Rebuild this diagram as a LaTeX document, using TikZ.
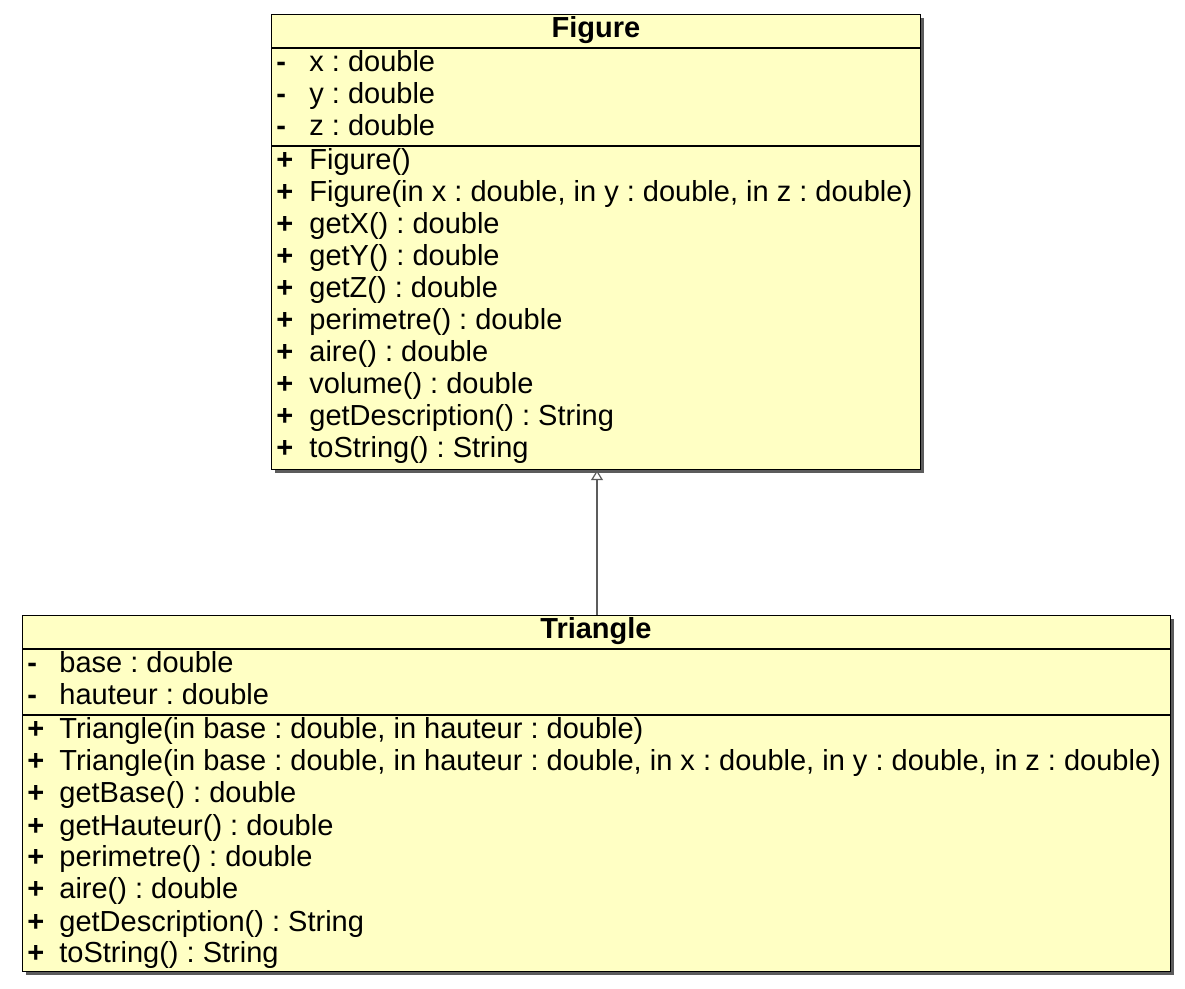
\documentclass[tikz,border=0pt]{standalone}
\usepackage{fontspec}
\setmainfont{Liberation Sans}
\usetikzlibrary{arrows.meta,shadows}
\definecolor{NoteYellow}{HTML}{FFFFC4}
\definecolor{EdgeGrey}{HTML}{5C5C5C}
\frenchspacing

\begin{document}
\begin{tikzpicture}[
      x=0.5pt, y=-0.5pt,
      cbox/.style={rectangle, draw=black, line width=0.6pt, fill=NoteYellow,
                   anchor=north west, inner sep=0pt,
                   drop shadow={shadow xshift=1.5pt, shadow yshift=-1.5pt,
                                fill=EdgeGrey, opacity=1}},
      ctitle/.style={anchor=base, inner sep=0pt,
                     font=\fontsize{14.5}{16}\selectfont\bfseries},
      vis/.style={anchor=base west, inner sep=0pt,
                  font=\fontsize{14.5}{16}\selectfont\bfseries},
      row/.style={anchor=base west, inner sep=0pt,
                  font=\fontsize{14.5}{16}\selectfont},
      sep/.style={draw=black, line width=0.6pt},
      gen/.style={-{Triangle[open, length=5pt, width=6pt]}, draw=EdgeGrey,
                  line width=0.6pt},
    ]
      \useasboundingbox (0,0) rectangle (1185,989);

      % Figure
      \node[cbox, minimum width=324.5pt, minimum height=227.5pt] (fig) at (271,14) {};
      \node[ctitle] (figt) at (596,38) {Figure};
      \draw[sep] ([yshift=-17pt]fig.north west) -- ([yshift=-17pt]fig.north east);
      \draw[sep] ([yshift=-66pt]fig.north west) -- ([yshift=-66pt]fig.north east);
      \foreach \t [count=\i] in {x : double, y : double, z : double}{
        \node[vis] (fav\i) at (276,{72+32*(\i-1)}) {-};
        \node[row] (fa\i) at (309,{72+32*(\i-1)}) {\t};
      }
      \foreach \t [count=\i] in {Figure(),
          {Figure(in x : double, in y : double, in z : double)},
          getX() : double, getY() : double, getZ() : double,
          perimetre() : double, aire() : double, volume() : double,
          getDescription() : String, toString() : String}{
        \node[vis] (fmv\i) at (276,{170+32*(\i-1)}) {+};
        \node[row] (fm\i) at (309,{170+32*(\i-1)}) {\t};
      }

      % Triangle
      \node[cbox, minimum width=574pt, minimum height=178pt] (tri) at (22,615) {};
      \node[ctitle] (trit) at (596,639) {Triangle};
      \draw[sep] ([yshift=-17pt]tri.north west) -- ([yshift=-17pt]tri.north east);
      \draw[sep] ([yshift=-50pt]tri.north west) -- ([yshift=-50pt]tri.north east);
      \foreach \t [count=\i] in {base : double, hauteur : double}{
        \node[vis] (tav\i) at (27,{673+32*(\i-1)}) {-};
        \node[row] (ta\i) at (59,{673+32*(\i-1)}) {\t};
      }
      \foreach \t [count=\i] in {{Triangle(in base : double, in hauteur : double)},
          {Triangle(in base : double, in hauteur : double, in x : double, in y : double, in z : double)},
          getBase() : double, getHauteur() : double, perimetre() : double,
          aire() : double, getDescription() : String, toString() : String}{
        \node[vis] (tmv\i) at (27,{739+32*(\i-1)}) {+};
        \node[row] (tm\i) at (59,{739+32*(\i-1)}) {\t};
      }

      % generalisation
      \draw[gen] (tri.north-|597,0) -- (fig.south-|597,0);
    \end{tikzpicture}
\end{document}
